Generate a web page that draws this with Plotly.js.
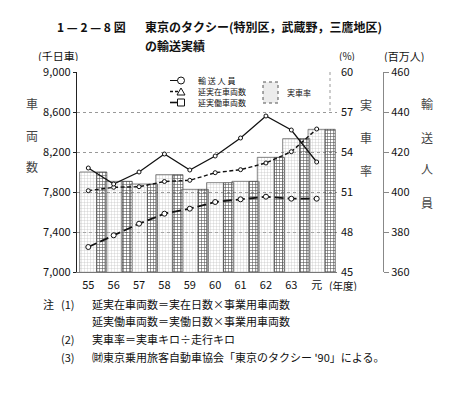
<!DOCTYPE html>
<html><head><meta charset="utf-8">
<script src="https://cdn.plot.ly/plotly-3.0.1.min.js"></script>
<style>body{margin:0;background:#fff}#c{width:471px;height:398px}</style>
</head><body><div id="c"></div>
<script>
// ---- data ----
const years = ['55','56','57','58','59','60','61','62','63','元'];
const jissharitsu = [52.5, 51.8, 51.6, 52.3, 51.2, 51.7, 51.8, 53.6, 55.0, 55.7];   // 実車率 (%)
const yusoJinin = [412, 404, 410, 419, 411, 418, 427, 438, 431, 415];             // 輸送人員 (百万人)
const nobeJitsuzai = [7813, 7847, 7853, 7905, 7917, 7993, 8023, 8090, 8203, 8430]; // 延実在車両数 (千日車)
const nobeJitsudo = [7250, 7367, 7483, 7583, 7633, 7700, 7727, 7753, 7733, 7733];  // 延実働車両数 (千日車)
const leftTicks = [7000, 7400, 7800, 8200, 8600, 9000];
const pctTicks = [45, 48, 51, 54, 57, 60];
const personTicks = [360, 380, 400, 420, 440, 460];

// ---- layout helpers (pixel -> paper) ----
const L = 77, R = 50, T = 72, B = 126, W = 471, H = 398;
const PW = W - L - R, PH = H - T - B;
const PX = x => (x - L) / PW;
const PY = y => (T + PH - y) / PH;
const FONT = '"Noto Sans CJK JP", "Noto Sans", sans-serif';

const traces = [
  { type: 'bar', x: years, y: jissharitsu, xaxis: 'x', yaxis: 'y', offset: 0.33, width: 0.4,
    marker: { color: '#b8b8b8', pattern: { shape: '+', fgcolor: '#555', size: 3, solidity: 0.35 },
              line: { color: '#333', width: 0.7 } }, hoverinfo: 'skip', showlegend: false },
  { type: 'bar', x: years, y: jissharitsu, xaxis: 'x', yaxis: 'y', offset: -0.34, width: 0.67,
    marker: { color: 'rgba(255,255,255,0.55)', pattern: { shape: '+', fgcolor: '#b8b8b8', size: 3, solidity: 0.2 },
              line: { color: '#555', width: 0.7 } }, name: '実車率', showlegend: false },
  { type: 'scatter', mode: 'lines+markers', x: years, y: nobeJitsudo, xaxis: 'x', yaxis: 'y2',
    line: { color: '#111', width: 1.8, dash: '9px,4px' },
    marker: { symbol: 'circle', size: 5, color: 'white', line: { color: '#111', width: 1 } },
    name: '延実働車両数', showlegend: false },
  { type: 'scatter', mode: 'lines+markers', x: years, y: nobeJitsuzai, xaxis: 'x', yaxis: 'y2',
    line: { color: '#111', width: 1.4, dash: '4px,2.5px' },
    marker: { symbol: 'circle', size: 4, color: 'white', line: { color: '#111', width: 1 } },
    name: '延実在車両数', showlegend: false },
  { type: 'scatter', mode: 'lines+markers', x: years, y: yusoJinin, xaxis: 'x', yaxis: 'y3',
    line: { color: '#111', width: 1.3 },
    marker: { symbol: 'circle', size: 4, color: 'white', line: { color: '#111', width: 1 } },
    name: '輸送人員', showlegend: false }
];

const ann = (text, x, y, opt = {}) => Object.assign({
  text, x: PX(x), y: PY(y), xref: 'paper', yref: 'paper', showarrow: false,
  xanchor: 'center', yanchor: 'middle', font: { family: FONT, size: 11, color: '#111' }
}, opt);
const legFont = { family: FONT, size: 8, color: '#111' };
const titleFont = { family: FONT, size: 12, color: '#111', weight: 'bold' };

const annotations = [
  ann('1 — 2 — 8 図', 55, 27, { xanchor: 'left', font: titleFont }),
  ann('東京のタクシー(特別区，武蔵野，三鷹地区)', 143, 27, { xanchor: 'left', font: titleFont }),
  ann('の輸送実績', 143, 45, { xanchor: 'left', font: titleFont }),
  ann('(千日車)', 58, 55.5, { height: 11 }),
  ann('車', 32, 103, { font: { family: FONT, size: 12 } }),
  ann('両', 32, 135, { font: { family: FONT, size: 12 } }),
  ann('数', 32, 166, { font: { family: FONT, size: 12 } }),
  ann('(%)', 347, 56, { height: 11, font: { family: FONT, size: 10, color: '#111' } }),
  ann('実', 366, 104, { font: { family: FONT, size: 12 } }),
  ann('車', 366, 137, { font: { family: FONT, size: 12 } }),
  ann('率', 366, 170, { font: { family: FONT, size: 12 } }),
  ann('(百万人)', 404, 56, { height: 12 }),
  ann('輸', 427, 103, { font: { family: FONT, size: 12 } }),
  ann('送', 427, 137, { font: { family: FONT, size: 12 } }),
  ann('人', 427, 168, { font: { family: FONT, size: 12 } }),
  ann('員', 427, 202, { font: { family: FONT, size: 12 } }),
  ann('(年度)', 343, 285, { height: 12, font: { family: FONT, size: 10.5, color: '#111' } }),
  ann('輸 送 人 員', 196, 80.5, { xanchor: 'left', height: 9, font: legFont }),
  ann('延実在車両数', 196, 91.5, { xanchor: 'left', height: 9, font: legFont }),
  ann('延実働車両数', 196, 102.5, { xanchor: 'left', height: 9, font: legFont }),
  ann('実車率', 299, 92, { font: legFont }),
  ann('注', 48, 304),
  ann('(1)', 68, 304),
  ann('延実在車両数＝実在日数×事業用車両数', 90, 304, { xanchor: 'left' }),
  ann('延実働車両数＝実働日数×事業用車両数', 90, 321, { xanchor: 'left' }),
  ann('(2)', 68, 339),
  ann('実車率＝実車キロ÷走行キロ', 90, 339, { xanchor: 'left' }),
  ann('(3)', 68, 357),
  ann('㈶東京乗用旅客自動車協会「東京のタクシー \'90」による。', 90, 357, { xanchor: 'left' })
];

const ln = (x0, y0, x1, y1, line) => ({ type: 'line', xref: 'paper', yref: 'paper',
  x0: PX(x0), y0: PY(y0), x1: PX(x1), y1: PY(y1), line });
const shapes = [
  ln(330, 72, 330, 111, { color: '#999', width: 1, dash: 'dot' }),
  ln(170, 80.5, 178, 80.5, { color: '#111', width: 1 }),
  { type: 'circle', xref: 'paper', yref: 'paper', x0: PX(177.5), x1: PX(184.5), y0: PY(84), y1: PY(77),
    line: { color: '#111', width: 1 }, fillcolor: 'white' },
  ln(170, 91.5, 178, 91.5, { color: '#111', width: 1.3, dash: '3px,2px' }),
  { type: 'path', xref: 'paper', yref: 'paper',
    path: `M ${PX(177)} ${PY(95)} L ${PX(185)} ${PY(95)} L ${PX(181)} ${PY(88)} Z`,
    line: { color: '#111', width: 1 }, fillcolor: 'white' },
  ln(170, 102.5, 178, 102.5, { color: '#111', width: 1.6 }),
  { type: 'rect', xref: 'paper', yref: 'paper', x0: PX(177.5), x1: PX(184.5), y0: PY(106), y1: PY(99),
    line: { color: '#111', width: 1 }, fillcolor: 'white' },
  { type: 'rect', xref: 'paper', yref: 'paper', x0: PX(263), x1: PX(278), y0: PY(103), y1: PY(82),
    line: { color: '#555', width: 1, dash: 'dot' }, fillcolor: '#ececec' }
];

const tickfont = { family: FONT, size: 11, color: '#111' };
const layout = {
  width: W, height: H, margin: { l: L, r: R, t: T, b: B, pad: 0 },
  paper_bgcolor: 'white', plot_bgcolor: 'rgba(0,0,0,0)',
  barmode: 'overlay', showlegend: false,
  xaxis: { type: 'category', domain: [0, (337 - L) / PW], range: [-0.445, 9.8],
    tickfont, ticks: '', ticklabelstandoff: 3, showline: true, linecolor: '#777', linewidth: 1,
    showgrid: false, fixedrange: true },
  yaxis: { side: 'right', anchor: 'x', range: [45, 60], tickvals: pctTicks, tickfont,
    showgrid: false, zeroline: false, showline: false, ticks: '', ticklabelstandoff: 3 },
  yaxis2: { overlaying: 'y', side: 'left', anchor: 'x', range: [7000, 9000], tickvals: leftTicks,
    tickformat: ',d', tickfont, showgrid: true, gridcolor: '#999', griddash: 'dot', gridwidth: 1,
    zeroline: false, showline: true, linecolor: '#222', linewidth: 1.2, ticks: 'outside', ticklen: 3,
    tickcolor: '#222' },
  yaxis3: { overlaying: 'y', anchor: 'free', position: (383 - L) / PW, side: 'right',
    range: [360, 460], tickvals: personTicks, tickfont, showgrid: false, zeroline: false,
    showline: true, linecolor: '#888', linewidth: 1, ticks: 'outside', ticklen: 5, tickcolor: '#888' },
  annotations, shapes
};

Plotly.newPlot('c', traces, layout, { staticPlot: true });
</script></body></html>
